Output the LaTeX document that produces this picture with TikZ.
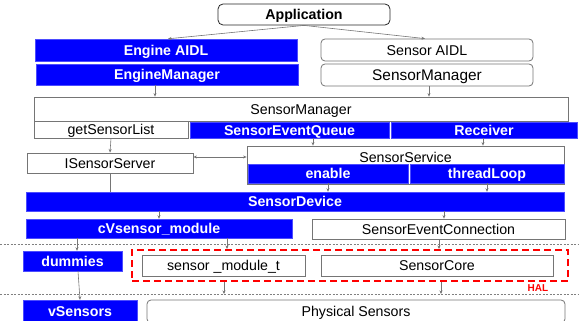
\documentclass[tikz,border=0pt]{standalone}
\usepackage{fontspec}
\setmainfont{Liberation Sans}
\usetikzlibrary{arrows.meta}
\definecolor{boxblue}{HTML}{0000FF}
\definecolor{edge}{HTML}{757575}
\definecolor{halred}{HTML}{FF0000}
\begin{document}
\begin{tikzpicture}[x=1pt, y=-1pt,
  font=\fontsize{14.2}{16}\selectfont,
  base/.style={inner sep=0pt, text height=10.2pt, text depth=0pt, align=center},
  sz/.style 2 args={minimum width=#1pt, minimum height=#2pt},
  bluebox/.style={base, fill=boxblue, draw=boxblue!70!white, line width=0.4pt,
    text=white, font=\fontsize{14.2}{16}\selectfont\bfseries},
  plainbox/.style={base, draw=edge, line width=0.8pt, fill=white},
  roundbox/.style={plainbox, rounded corners=4pt},
  link/.style={draw=edge, line width=0.6pt},
  arr/.style={link, -{Stealth[length=3.5pt,width=3pt]}},
  biarr/.style={link, {Stealth[length=3.5pt,width=3pt]}-{Stealth[length=3.5pt,width=3pt]}},
  sepline/.style={draw=gray, line width=0.7pt, dash pattern=on 2pt off 1.5pt}]
\useasboundingbox (0,0) rectangle (579,321);
\clip (0,0) rectangle (579,321);

% layer separators
\coordinate (sepA) at (0,244);
\coordinate (sepB) at (0,294);
\draw[sepline] (sepA) -- ++(579,0);
\draw[sepline] (sepB) -- ++(579,0);

% application layer
\node[roundbox, draw=black!85, rounded corners=5pt,
  font=\fontsize{14.2}{16}\selectfont\bfseries, sz={172}{21}] (app) at (304,14.5) {Application};
\node[bluebox, sz={262}{22}] (engaidl) at (166,50) {Engine AIDL};
\node[bluebox, sz={262}{21}] (engmgr) at (167,74.5) {EngineManager};
\node[roundbox, sz={212}{22}] (senaidl) at (427,50) {Sensor AIDL};
\node[roundbox, sz={212}{22}, font=\fontsize{15.4}{17}\selectfont] (senmgrtop) at (427,75) {SensorManager};

% framework client side
\node[plainbox, sz={534}{24}] (senmgr) at (301,109) {SensorManager};
\node[plainbox, sz={154}{17}] (getlist) at (111,129.5) {getSensorList};
\node[bluebox, sz={199}{16}] (seq) at (289.5,130) {SensorEventQueue};
\node[bluebox, sz={186}{16}] (recv) at (484,130) {Receiver};

% sensor service
\node[plainbox, sz={166}{20}] (isrv) at (110,163) {ISensorServer};
\node[plainbox, sz={317}{38}] (ssvc) at (405.5,165) {};
\node[base] (ssvclbl) at (405.5,157) {SensorService};
\node[bluebox, sz={160}{19}] (enable) at (328,173.5) {enable};
\node[bluebox, sz={154}{19}] (tloop) at (487,173.5) {threadLoop};
\node[bluebox, sz={538}{19}] (sdev) at (295,201.5) {SensorDevice};
\node[bluebox, sz={266}{19}] (cvmod) at (159,228.5) {cVsensor\_module};
\node[plainbox, sz={253}{20}] (sconn) at (438.5,229) {SensorEventConnection};

% HAL layer
\node[bluebox, sz={99}{20}] (dummies) at (72.5,261) {dummies};
\node[draw=halred, line width=2pt, dash pattern=on 7pt off 4pt, inner sep=0pt, sz={436}{31}] (hal) at (350,265.5) {};
\node[plainbox, sz={163}{21}] (smod) at (223.5,265.5) {sensor \_module\_t};
\node[plainbox, sz={232}{21}] (score) at (437,265.5) {SensorCore};
\node[text=halred, font=\fontsize{10}{12}\selectfont\bfseries] (hallbl) at (538,288) {HAL};

% hardware
\node[bluebox, sz={114}{23}] (vsens) at (80,311.5) {vSensors};
\node[roundbox, sz={418}{23}] (phys) at (356,311.5) {Physical Sensors};

% connector end points
\coordinate (emx) at ([xshift=-12pt]engmgr.south);
\coordinate (smx) at ([xshift=2pt]senmgrtop.south);
\coordinate (isx) at ([yshift=6pt]isrv.east);
\coordinate (sqx) at ([xshift=23.5pt]seq.south);
\coordinate (rcx) at ([xshift=-1pt]recv.south);
\coordinate (scx) at ([xshift=5.5pt]sconn.north);
\coordinate (dmx) at ([xshift=4.5pt]dummies.north);
\coordinate (hlA) at ([xshift=-123pt]hal.north);
\coordinate (hlB) at ([xshift=89pt]hal.north);
\coordinate (hlC) at ([xshift=-126pt]hal.south);
\coordinate (hlD) at ([xshift=91pt]hal.south);

% connectors
\draw[arr] (app.south) -- ([xshift=2pt]engaidl.north);
\draw[arr] (app.south) -- ([xshift=-2pt]senaidl.north);
\draw[arr] (emx) -- (emx |- senmgr.north);
\draw[arr] (smx) -- (smx |- senmgr.north);
\draw[arr] (getlist.south) -- (isrv.north);
\draw[biarr] (isx) -- (isx -| ssvc.west);
\draw[arr] (sqx) -- (sqx |- ssvc.north);
\draw[arr] (rcx) -- (rcx |- ssvc.north);
\draw[link] (isrv.south) -- (isrv.south |- sdev.north);
\draw[arr] (enable.south) -- (enable.south |- sdev.north);
\draw[arr] (tloop.south) -- (tloop.south |- sdev.north);
\draw[arr] (cvmod.north |- sdev.south) -- (cvmod.north);
\draw[arr] (scx |- sdev.south) -- (scx);
\draw[arr] (dmx |- cvmod.south) -- (dmx);
\draw[arr] (hlA |- cvmod.south) -- (hlA);
\draw[arr] (hlB |- sconn.south) -- (hlB);
\draw[arr] ([xshift=5.5pt]dummies.south) -- (vsens.north);
\draw[arr] (hlC) -- (hlC |- sepB);
\draw[arr] (hlD) -- (hlD |- sepB);
\end{tikzpicture}
\end{document}
